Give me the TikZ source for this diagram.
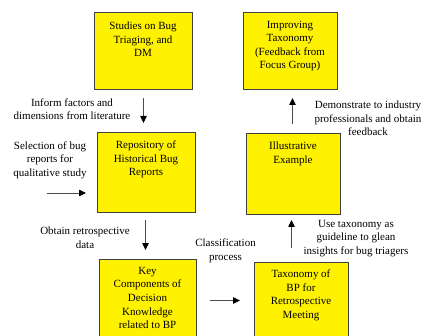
\documentclass[tikz,border=0pt]{standalone}
\usepackage{fontspec}
\setmainfont{Liberation Serif}
\usetikzlibrary{arrows.meta}
\begin{document}
\begin{tikzpicture}[x=1pt,y=-1pt,
  box/.style={draw=black!75, line width=1pt, fill=yellow, minimum width=#1, anchor=north west, inner sep=0pt},
  txt/.style={align=center, inner sep=0pt, font=\fontsize{11}{13.6}\selectfont},
  arr/.style={draw=black!70, line width=0.8pt, -{Triangle[length=7pt,width=6.5pt]}, arrows={[color=black]}}]
\clip (0,0) rectangle (422,336);
\fill[white] (0,0) rectangle (422,336);
% boxes
\node[box=98pt, minimum height=77pt] (b1) at (94,12) {};
\node[box=98pt, minimum height=80pt] (b2) at (97,132) {};
\node[box=97pt, minimum height=82pt] (b3) at (99,259) {};
\node[box=94pt, minimum height=77pt] (b4) at (243,12) {};
\node[box=94pt, minimum height=81pt] (b5) at (246,133) {};
\node[box=94pt, minimum height=76pt] (b6) at (254,262) {};
% box texts
\node[txt] (t1) at (143,39.5) {Studies on Bug\\Triaging, and\\DM};
\node[txt] (t2) at (146,159.5) {Repository of\\Historical Bug\\Reports};
\node[txt] (t3) at (147.5,298) {Key\\Components of\\Decision\\Knowledge\\related to BP};
\node[txt] (t4) at (290,46) {Improving\\Taxonomy\\(Feedback from\\Focus Group)};
\node[txt] (t5) at (293,154) {Illustrative\\Example};
\node[txt] (t6) at (301,295.5) {Taxonomy of\\BP for\\Retrospective\\Meeting};
% labels
\node[txt] (l1) at (72,109) {Inform factors and\\dimensions from literature};
\node[txt] (l2) at (50,160) {Selection of bug\\reports for\\qualitative study};
\node[txt] (l3) at (85,237.5) {Obtain retrospective\\data};
\node[txt] (l4) at (225.5,250.5) {Classification\\process};
\node[txt] (l5) at (356,238.5) {Use taxonomy as\\guideline to glean\\insights for bug triagers};
\node[txt] (l6) at (368,118.5) {Demonstrate to industry\\professionals and obtain\\feedback};
% connectors
\coordinate (s0) at (47,193);
\draw[arr, shorten <=8pt, shorten >=9pt] (b1.south) -- (b1.south |- b2.north);
\draw[arr, shorten >=11pt] (s0) -- (s0 -| b2.west);
\draw[arr, shorten <=7pt, shorten >=9pt] ([xshift=-1pt]b2.south) -- ([xshift=-1pt]b2.south |- b3.north);
\draw[arr, shorten <=13pt, shorten >=14pt] (b3.east) -- (b6.west);
\draw[arr, shorten <=14pt, shorten >=5pt] ([xshift=-2pt]b5.south |- b6.north) -- ([xshift=-2pt]b5.south);
\draw[arr, shorten <=9pt, shorten >=8pt] ([xshift=-1pt]b5.north) -- ([xshift=-1pt]b5.north |- b4.south);
\end{tikzpicture}
\end{document}
